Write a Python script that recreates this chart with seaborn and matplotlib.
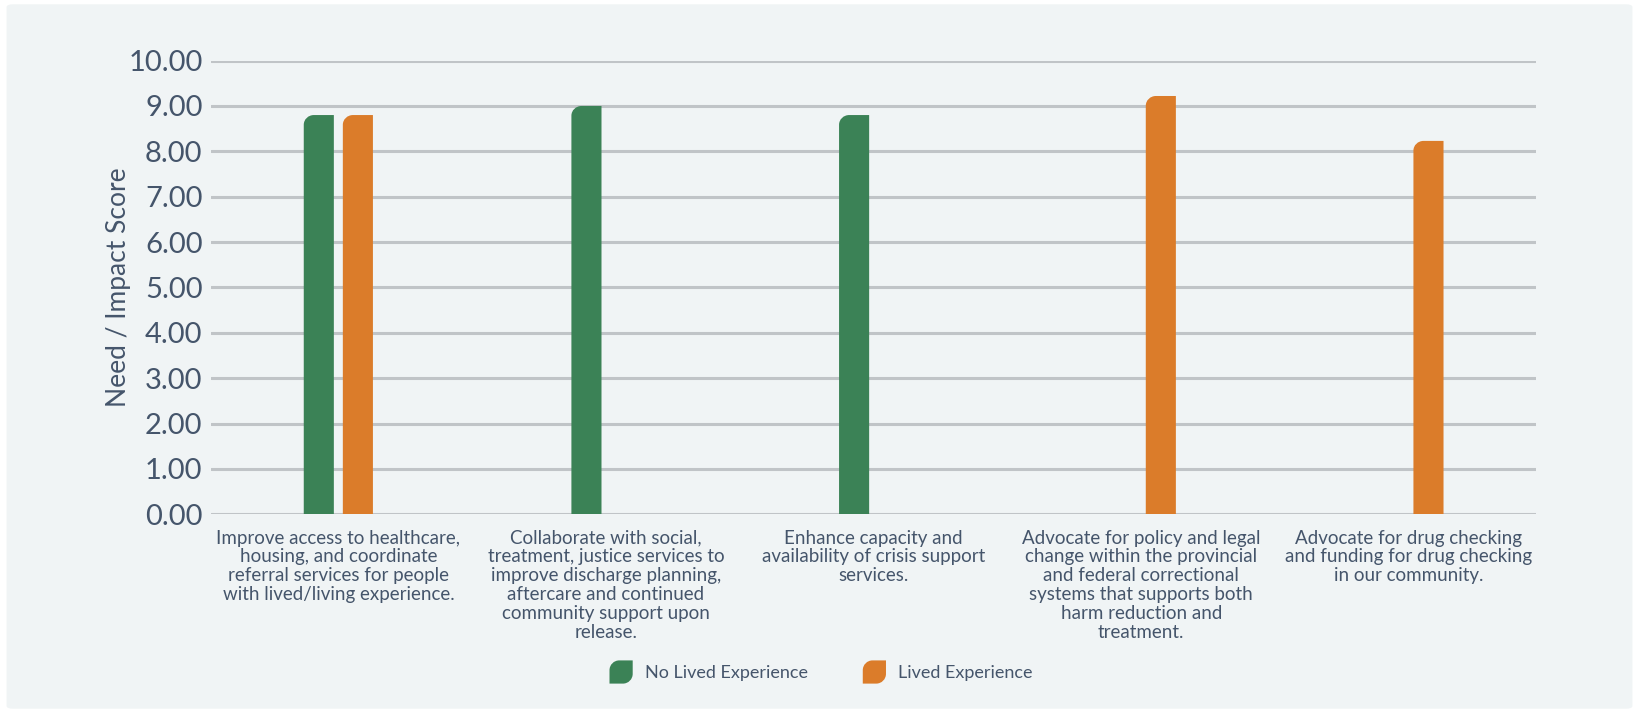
import numpy as np
import pandas as pd
import matplotlib
matplotlib.use("Agg")
import matplotlib.pyplot as plt
from matplotlib.path import Path
from matplotlib.patches import PathPatch, FancyBboxPatch
from matplotlib.legend_handler import HandlerBase
import seaborn as sns

# ---- data -------------------------------------------------------------
strategies = [
    "Improve access to healthcare,\nhousing, and coordinate\nreferral services for people\nwith lived/living experience.",
    "Collaborate with social,\ntreatment, justice services to\nimprove discharge planning,\naftercare and continued\ncommunity support upon\nrelease.",
    "Enhance capacity and\navailability of crisis support\nservices.",
    "Advocate for policy and legal\nchange within the provincial\nand federal correctional\nsystems that supports both\nharm reduction and\ntreatment.",
    "Advocate for drug checking\nand funding for drug checking\nin our community.",
]
groups = ["No Lived Experience", "Lived Experience"]
no_lived = [8.80, 9.00, 8.80, np.nan, np.nan]
lived = [8.80, np.nan, np.nan, 9.22, 8.23]
y_ticks = [0, 1, 2, 3, 4, 5, 6, 7, 8, 9, 10]

GREEN = "#3b8256"
ORANGE = "#db7c2a"
BG = "#f0f4f5"
TEXT = "#45556b"
GRID = "#c0c4c7"

df = pd.DataFrame({
    "strategy": strategies * 2,
    "score": no_lived + lived,
    "group": [groups[0]] * len(strategies) + [groups[1]] * len(strategies),
})

FONT = "Lato"
sns.set_theme(style="white")
plt.rcParams["font.family"] = [FONT, "DejaVu Sans"]

fig = plt.figure(figsize=(16.39, 7.13), dpi=100, facecolor="white")
# rounded light panel behind the chart
panel = FancyBboxPatch((0.004, 0.006), 0.992, 0.988,
                       boxstyle="round,pad=0,rounding_size=0.004",
                       transform=fig.transFigure, facecolor=BG,
                       edgecolor="none", zorder=-10)
fig.patches.append(panel)

ax = fig.add_axes([0.1287, 0.2787, 0.8085, 0.6363])
ax.set_facecolor(BG)

sns.barplot(data=df, x="strategy", y="score", hue="group",
            order=strategies, hue_order=groups,
            palette=[GREEN, ORANGE], saturation=1, width=0.292, gap=0.23,
            dodge=True, errorbar=None, legend=False, ax=ax)


def leaf_path(x0, y0, w, h, rx, ry, round_br=False):
    """Rectangle with a rounded top-left corner (and optionally bottom-right)."""
    k = 0.5523
    x1, y1 = x0 + w, y0 + h
    verts, codes = [(x0, y0)], [Path.MOVETO]
    if round_br:
        verts += [(x1 - rx, y0), (x1 - rx * (1 - k), y0), (x1, y0 + ry * (1 - k)), (x1, y0 + ry)]
        codes += [Path.LINETO, Path.CURVE4, Path.CURVE4, Path.CURVE4]
    else:
        verts.append((x1, y0)); codes.append(Path.LINETO)
    verts += [(x1, y1), (x0 + rx, y1), (x0 + rx * (1 - k), y1), (x0, y1 - ry * (1 - k)), (x0, y1 - ry), (x0, y0)]
    codes += [Path.LINETO, Path.LINETO, Path.CURVE4, Path.CURVE4, Path.CURVE4, Path.CLOSEPOLY]
    return Path(verts, codes)


# replace seaborn's rectangles with rounded-corner bars
fig.canvas.draw()
px_per_x = ax.transData.transform((1, 0))[0] - ax.transData.transform((0, 0))[0]
px_per_y = ax.transData.transform((0, 1))[1] - ax.transData.transform((0, 0))[1]
radius_px = 10
for rect in list(ax.patches):
    h = rect.get_height()
    color = rect.get_facecolor()
    rect.remove()
    if not np.isfinite(h) or h <= 0:
        continue
    path = leaf_path(rect.get_x(), rect.get_y(), rect.get_width(), h,
                     radius_px / px_per_x, radius_px / px_per_y)
    ax.add_patch(PathPatch(path, facecolor=color, edgecolor="none", zorder=3))

ax.set_xlim(-0.476, 4.475)
ax.set_ylim(0, 10)
ax.set_yticks(y_ticks)
ax.set_yticklabels([f"{v:.2f}" for v in y_ticks])
ax.yaxis.grid(True, color=GRID, linewidth=2.2, zorder=0)
ax.set_axisbelow(True)
for s in ax.spines.values():
    s.set_visible(False)

ax.tick_params(axis="y", length=5, width=2, color=GRID, pad=1,
               labelsize=21, labelcolor=TEXT)
ax.tick_params(axis="x", length=0, pad=11, labelsize=13.5, labelcolor=TEXT)
for lbl in ax.get_xticklabels():
    lbl.set_linespacing(1.13)
    lbl.set_verticalalignment("top")

ax.set_xlabel("")
ax.set_ylabel("Need / Impact Score", fontsize=19, color=TEXT, labelpad=-2)


class LeafHandler(HandlerBase):
    def create_artists(self, legend, orig_handle, xdescent, ydescent,
                       width, height, fontsize, trans):
        s = min(width, height)
        x0 = -xdescent + (width - s) / 2
        y0 = -ydescent + (height - s) / 2
        r = 0.42 * s
        p = PathPatch(leaf_path(x0, y0, s, s, r, r, round_br=True),
                      facecolor=orig_handle.get_facecolor(), edgecolor="none",
                      transform=trans)
        return [p]


handles = [matplotlib.patches.Patch(facecolor=c, label=g)
           for c, g in zip([GREEN, ORANGE], groups)]
leg = fig.legend(handles=handles, loc="center", bbox_to_anchor=(0.5, 0.0575),
                 ncol=2, frameon=False, fontsize=13,
                 handler_map={matplotlib.patches.Patch: LeafHandler()},
                 handlelength=1.6, handleheight=1.6, handletextpad=0.5,
                 columnspacing=2.9)
for t in leg.get_texts():
    t.set_color(TEXT)

fig.savefig("out.png", dpi=100, facecolor="white")
